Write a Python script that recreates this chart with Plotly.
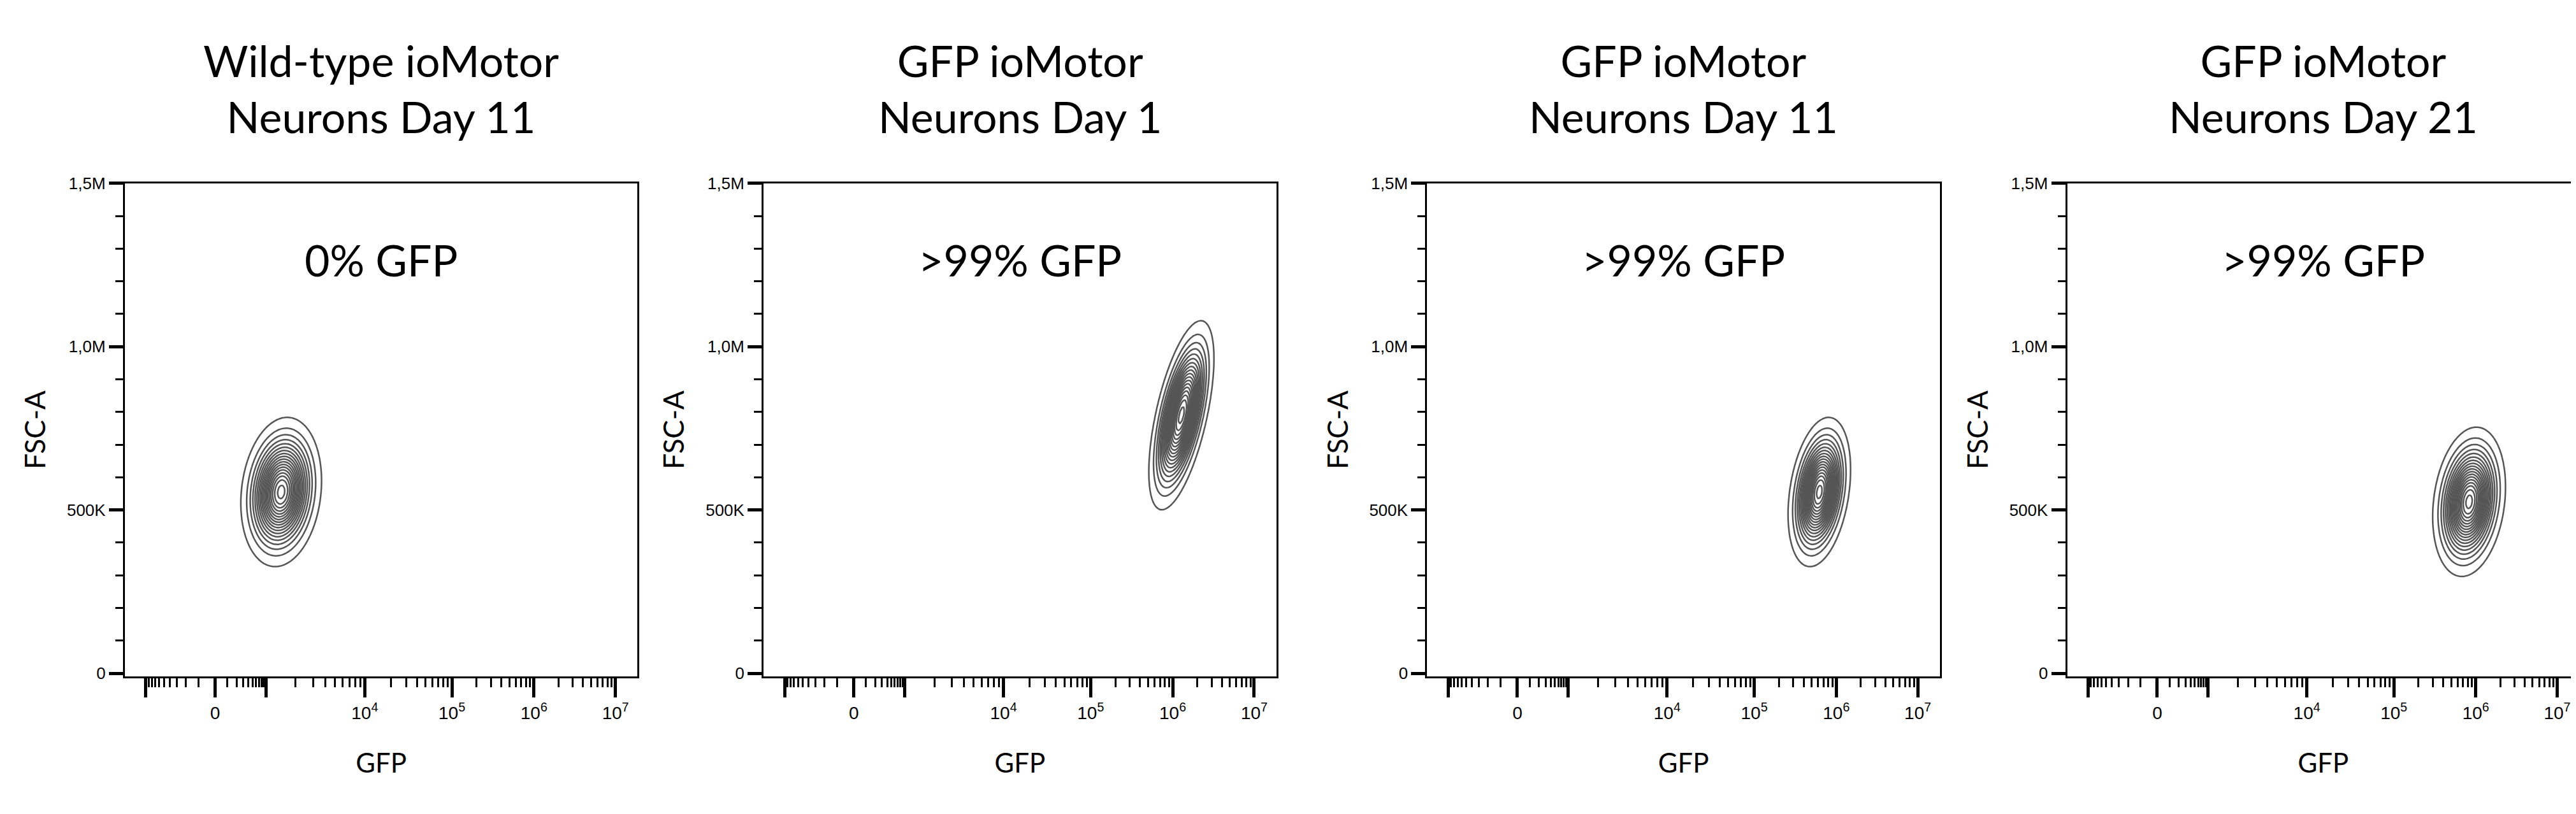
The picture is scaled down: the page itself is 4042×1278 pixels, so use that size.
import numpy as np
import plotly.graph_objects as go

titles = ["Wild-type ioMotor<br>Neurons Day 11", "GFP ioMotor<br>Neurons Day 1",
          "GFP ioMotor<br>Neurons Day 11", "GFP ioMotor<br>Neurons Day 21"]
gfp_labels = ["0% GFP", ">99% GFP", ">99% GFP", ">99% GFP"]

# population centre / spread (x in axis-fraction units, y in FSC-A)
pop_cx = [0.305, 0.815, 0.765, 0.785]
pop_cy = [555e3, 790e3, 555e3, 525e3]
pop_sx = [0.031, 0.025, 0.024, 0.028]
pop_sy = [90e3, 114e3, 90e3, 90e3]
pop_rho = [0.15, 0.6, 0.3, 0.2]

# biexponential GFP axis: value -> fraction of axis width
decade_vals = [-1e3, 0, 1e3, 1e4, 1e5, 1e6, 1e7]
decade_pos = [0.041, 0.176, 0.275, 0.468, 0.638, 0.798, 0.957]
major_text = ["", "0", "", "10<sup>4</sup>", "10<sup>5</sup>", "10<sup>6</sup>", "10<sup>7</sup>"]

y_vals = [0, 500e3, 1e6, 1.5e6]
y_text = ["0", "500K", "1,0M", "1,5M"]


def gfp_pos(v):
    if abs(v) <= 1e3:
        w = 150.0
        side = decade_pos[2] - decade_pos[1] if v >= 0 else decade_pos[1] - decade_pos[0]
        return decade_pos[1] + side * np.arcsinh(v / w) / np.arcsinh(1e3 / w)
    d = int(np.floor(np.log10(v)))
    i = decade_vals.index(10.0 ** d)
    return decade_pos[i] + (decade_pos[i + 1] - decade_pos[i]) * np.log10(v / 10.0 ** d)


minor_pos = [gfp_pos(s * k * 100) for s in (-1, 1) for k in range(1, 10)]
minor_pos += [gfp_pos(k * 10.0 ** d) for d in range(3, 7) for k in range(2, 10)]

lefts = [188, 1191, 2233, 3238]
W, H = 4042, 1278
bw = 805
ydom = [(H - 1060) / H, (H - 270) / H]

fig = go.Figure()
gx = np.linspace(0, 1, 300)
gy = np.linspace(-1e4, 1.5e6, 300)
X, Y = np.meshgrid(gx, gy)
font_t = "Lato, Noto Sans, sans-serif"
font_a = "Liberation Sans, Arial, sans-serif"

for i in range(4):
    n = i + 1
    xa, xm, ya = f"x{2*i+1}", f"x{2*i+2}", f"y{n}"
    dx = ((X - pop_cx[i]) / pop_sx[i])
    dy = ((Y - pop_cy[i]) / pop_sy[i])
    r = pop_rho[i]
    Z = np.exp(-(dx**2 - 2 * r * dx * dy + dy**2) / (2 * (1 - r**2)))
    fig.add_trace(go.Contour(
        x=gx, y=gy, z=Z, xaxis=xa, yaxis=ya,
        contours=dict(coloring="lines", start=0.04, end=1.0, size=0.055),
        colorscale=[[0, "#555"], [1, "#555"]], line=dict(width=2.5),
        showscale=False, hoverinfo="skip"))
    # invisible trace so the minor-tick axis is drawn
    fig.add_trace(go.Scatter(x=[0, 1], y=[0, 0], xaxis=xm, yaxis=ya, mode="markers",
                             marker=dict(opacity=0), hoverinfo="skip"))
    d0, d1 = lefts[i] / W, min((lefts[i] + bw) / W, 1.0)
    fig.layout[f"xaxis{2*i+1}"] = dict(
        domain=[d0, d1], range=[0, 1], anchor=ya, showline=True, linecolor="black",
        linewidth=3, mirror=True, showgrid=False, zeroline=False, ticks="outside",
        tickvals=decade_pos, ticktext=major_text, ticklen=30, tickwidth=5,
        tickcolor="black", tickfont=dict(family=font_a, size=28, color="black"),
        title=dict(text="GFP", font=dict(family=font_t, size=42, color="black"), standoff=50))
    fig.layout[f"xaxis{2*i+2}"] = dict(
        domain=[d0, d1], range=[0, 1], anchor=ya, overlaying=xa, side="bottom",
        showline=False, showgrid=False, zeroline=False, ticks="outside",
        tickvals=minor_pos, showticklabels=False, ticklen=16, tickwidth=3,
        tickcolor="black")
    fig.layout[f"yaxis{n}"] = dict(
        domain=ydom, range=[-1e4, 1.5e6], anchor=xa, showline=True, linecolor="black",
        linewidth=3, mirror=True, showgrid=False, zeroline=False, ticks="outside",
        tickvals=y_vals, ticktext=y_text, ticklen=22, tickwidth=5, tickcolor="black",
        minor=dict(dtick=100e3, ticklen=12, tickwidth=3, tickcolor="black", ticks="outside"),
        tickfont=dict(family=font_a, size=26, color="black"),
        title=dict(text="FSC-A", font=dict(family=font_t, size=44, color="black"), standoff=20))
    cx = (d0 + (lefts[i] + bw) / W) / 2
    fig.add_annotation(text=titles[i], x=cx, y=(H - 30) / H, xref="paper", yref="paper",
                       xanchor="center", yanchor="top", showarrow=False,
                       font=dict(family=font_t, size=68, color="black"))
    fig.add_annotation(text=gfp_labels[i], x=cx, y=(H - 392) / H, xref="paper", yref="paper",
                       xanchor="center", yanchor="middle", showarrow=False,
                       font=dict(family=font_t, size=68, color="black"))

fig.update_layout(width=W, height=H, margin=dict(l=0, r=0, t=0, b=0),
                  paper_bgcolor="white", plot_bgcolor="white", showlegend=False)
fig.write_html("out.html")
